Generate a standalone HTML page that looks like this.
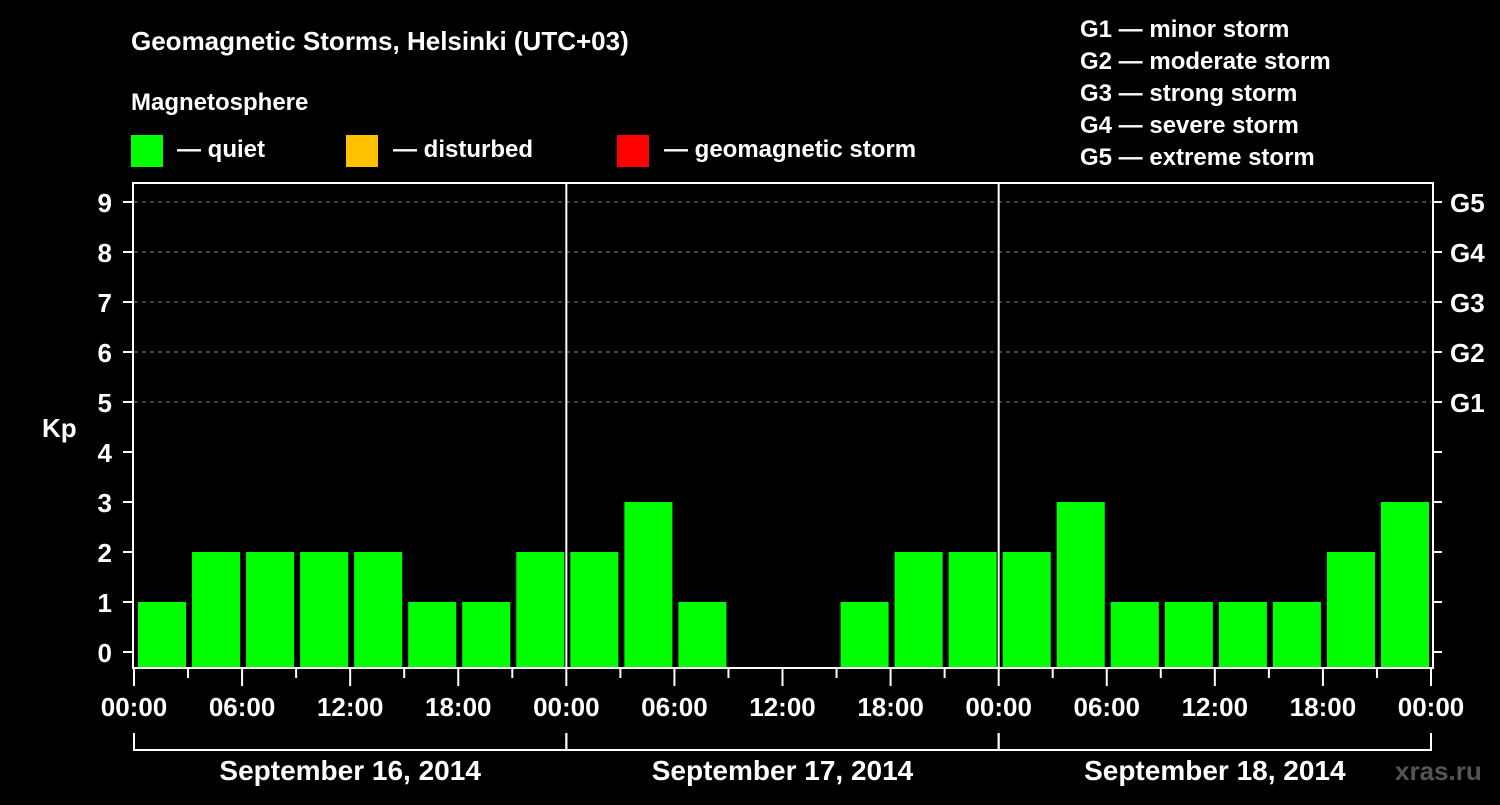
<!DOCTYPE html>
<html><head><meta charset="utf-8"><style>
body{margin:0;background:#000;width:1500px;height:800px;overflow:hidden}
svg text{font-family:"Liberation Sans",Arial,sans-serif;font-weight:bold;fill:#fff}
</style></head><body>
<svg id="c" width="1500" height="800" xmlns="http://www.w3.org/2000/svg">
<text x="131" y="50" font-size="26">Geomagnetic Storms, Helsinki (UTC+03)</text>
<text x="131" y="110" font-size="24">Magnetosphere</text>
<g>
<rect x="131" y="135" width="32" height="32" fill="#00ff00"/>
<text x="177" y="157" font-size="24">— quiet</text>
<rect x="346" y="135" width="32" height="32" fill="#ffc000"/>
<text x="393" y="157" font-size="24">— disturbed</text>
<rect x="617" y="135" width="32" height="32" fill="#ff0000"/>
<text x="664" y="157" font-size="24">— geomagnetic storm</text>
</g>
<g font-size="24">
<text x="1080" y="37">G1 — minor storm</text>
<text x="1080" y="69">G2 — moderate storm</text>
<text x="1080" y="101">G3 — strong storm</text>
<text x="1080" y="133">G4 — severe storm</text>
<text x="1080" y="165">G5 — extreme storm</text>
</g>
<text x="42" y="437" font-size="26">Kp</text>
<text x="1395" y="780" font-size="26" fill="#555" style="fill:#555">xras.ru</text>
<g id="plot"></g>
</svg>
<script>
const days = ["September 16, 2014","September 17, 2014","September 18, 2014"];
const kpValues = [1,2,2,2,2,1,1,2, 2,3,1,null,null,1,2,2, 2,3,1,1,1,1,2,3];
const yTicks = [0,1,2,3,4,5,6,7,8,9];
const gLabels = ["G1","G2","G3","G4","G5"];
const gLevels = [5,6,7,8,9];
const timeLabels = ["00:00","06:00","12:00","18:00"];

const NS="http://www.w3.org/2000/svg";
const g=document.getElementById('plot');
const X0=134,X1=1431,TOP=183,BOT=668;
const nBars=kpValues.length;
const xs=i=>X0+(X1-X0)*i/nBars;
const ys=v=>652-50*v;
function el(t,a,p){const e=document.createElementNS(NS,t);for(const k in a)e.setAttribute(k,a[k]);(p||g).appendChild(e);return e;}
// grid
gLevels.forEach((v,i)=>{
  const l=el('line',{x1:X0,x2:X1,y1:ys(v),y2:ys(v),stroke:'#888','stroke-dasharray':'4,4','stroke-width':1});
  
  
  const t=el('text',{x:1450,y:ys(v)+10,'font-size':26});
  t.textContent=gLabels[i];
  
  
});
// bars
kpValues.forEach((v,i)=>{
  if(v===null)return;
  const x=xs(i),w=xs(i+1)-x;
  const r=el('rect',{x:x+4,width:w-6,y:ys(v),height:BOT-ys(v),fill:v>=5?'#ff0000':(v>=4?'#ffc000':'#00ff00')});
  
  
});
// y ticks
yTicks.forEach(v=>{
  const a=el('line',{x1:123,x2:133,y1:ys(v),y2:ys(v),stroke:'#fff','stroke-width':2});
  
  
  const b=el('line',{x1:1433,x2:1442,y1:ys(v),y2:ys(v),stroke:'#fff','stroke-width':2});
  
  
  const t=el('text',{x:112,y:ys(v)+10,'font-size':26,'text-anchor':'end'});
  t.textContent=v;
  
  
});
// frame
const f=el('rect',{x:133,y:TOP,width:1300,height:BOT-TOP,fill:'none',stroke:'#fff','stroke-width':2});


// x ticks + day separators
for(let i=0;i<=nBars;i++){
  const x=xs(i);
  const major=i%2===0;
  const t=el('line',{x1:x,x2:x,y1:BOT,y2:major?686:678,stroke:'#fff','stroke-width':2});
  
  
  if(major){
    const lab=el('text',{x:x,y:716,'font-size':26,'text-anchor':'middle'});
    lab.textContent=timeLabels[(i/2)%4];
    
    
  }
}
days.forEach((d,k)=>{
  const a=xs(k*8),b=xs(k*8+8);
  if(k>0){const s=el('line',{x1:a,x2:a,y1:TOP,y2:BOT,stroke:'#fff','stroke-width':2});
    
    }
  const p=el('path',{d:`M${a} 733V750H${b}V733`,fill:'none',stroke:'#fff','stroke-width':2});
  
  
  const t=el('text',{x:(a+b)/2,y:780,'font-size':28,'text-anchor':'middle'});
  t.textContent=d;
  
  
});
</script>
</body></html>
